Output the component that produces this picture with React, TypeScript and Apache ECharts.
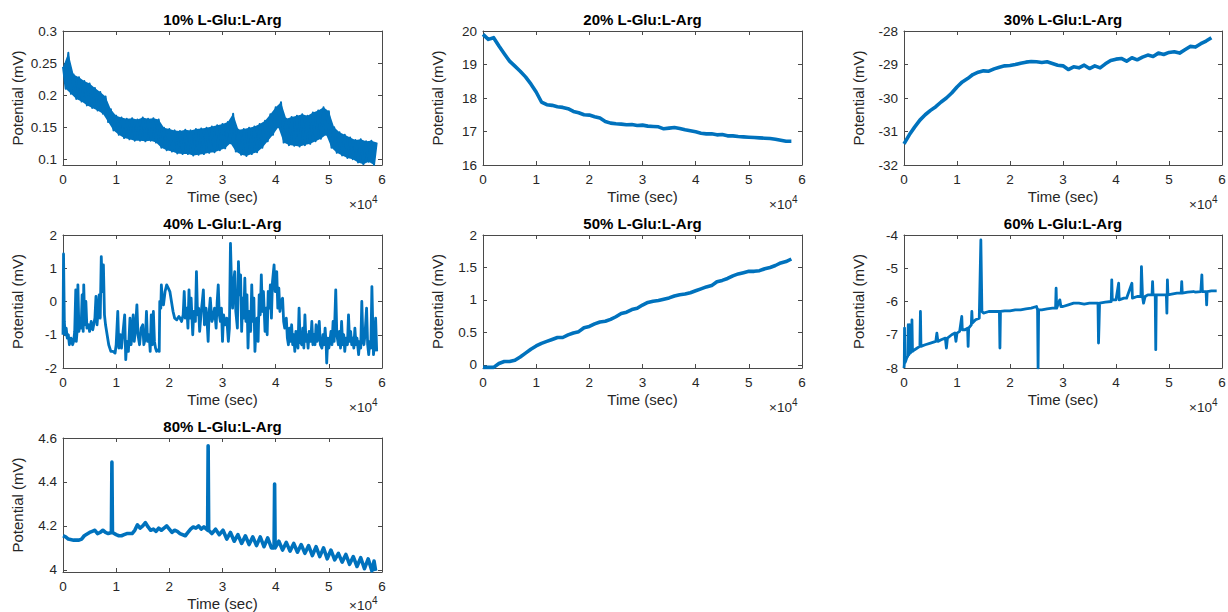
import React, { useEffect, useRef } from "react";
import * as echarts from "echarts";

const FONT = "'Liberation Sans', Arial, Helvetica, sans-serif";
const LINE_COLOR = "#0072BD";
const AXIS_COLOR = "#262626";

// Time is stored in units of 10^4 s (the axis shows 0..6 with a x10^4 multiplier)
const xTicks = [0, 1, 2, 3, 4, 5, 6];

const panelTitles = [
  "10% L-Glu:L-Arg",
  "20% L-Glu:L-Arg",
  "30% L-Glu:L-Arg",
  "40% L-Glu:L-Arg",
  "50% L-Glu:L-Arg",
  "60% L-Glu:L-Arg",
  "80% L-Glu:L-Arg",
];

// 10%: fast oscillation, band read as upper (t = 0, 0.1, ...) and lower (t = 0.05, 0.15, ...) envelopes
const p10Step = 0.1;
const p10Upper = [
  0.244, 0.266, 0.232, 0.228, 0.222, 0.218, 0.211, 0.205, 0.198, 0.178,
  0.168, 0.165, 0.163, 0.164, 0.162, 0.165, 0.163, 0.164, 0.162, 0.149,
  0.147, 0.145, 0.144, 0.146, 0.145, 0.147, 0.148, 0.149, 0.151, 0.153,
  0.155, 0.158, 0.171, 0.146, 0.147, 0.149, 0.151, 0.155, 0.16, 0.17,
  0.181, 0.189, 0.163, 0.166, 0.168, 0.17, 0.168, 0.173, 0.176, 0.181,
  0.175, 0.15, 0.142, 0.138, 0.134, 0.13, 0.131, 0.128, 0.129, 0.126,
];
const p10Lower = [
  0.21, 0.202, 0.194, 0.19, 0.184, 0.18, 0.176, 0.171, 0.158, 0.145,
  0.138, 0.133, 0.131, 0.129, 0.129, 0.128, 0.129, 0.126, 0.118, 0.114,
  0.112, 0.109, 0.108, 0.108, 0.106, 0.107, 0.108, 0.11, 0.111, 0.114,
  0.117, 0.125, 0.112, 0.107, 0.105, 0.108, 0.111, 0.118, 0.128, 0.138,
  0.15, 0.126, 0.122, 0.121, 0.12, 0.122, 0.124, 0.128, 0.132, 0.138,
  0.118, 0.11, 0.106, 0.102, 0.1, 0.095, 0.092, 0.096, 0.091,
];

// 20%, 30%, 50%: one reading every 0.1 x10^4 s
const smoothStep = 0.1;
const p20Values = [
  19.9, 19.75, 19.8, 19.55, 19.32, 19.1, 18.95, 18.8, 18.63, 18.42,
  18.18, 17.88, 17.8, 17.78, 17.74, 17.72, 17.68, 17.6, 17.56, 17.5,
  17.49, 17.44, 17.4, 17.3, 17.25, 17.23, 17.22, 17.2, 17.21, 17.18,
  17.19, 17.16, 17.15, 17.14, 17.08, 17.1, 17.12, 17.09, 17.05, 17.02,
  16.99, 16.95, 16.93, 16.93, 16.9, 16.91, 16.87, 16.87, 16.85, 16.84,
  16.83, 16.82, 16.81, 16.8, 16.79, 16.77, 16.74, 16.71, 16.71,
];
const p30Values = [
  -31.37, -31.1, -30.87, -30.66, -30.5, -30.37, -30.26, -30.12, -30.0, -29.85,
  -29.67, -29.52, -29.42, -29.3, -29.23, -29.19, -29.2, -29.13, -29.08, -29.04,
  -29.03, -29.0, -28.96, -28.93, -28.91, -28.92, -28.94, -28.92, -28.97, -29.02,
  -29.04, -29.15, -29.07, -29.1, -29.02, -29.12, -29.04, -29.1, -28.98, -28.88,
  -28.84, -28.82, -28.9, -28.8, -28.86, -28.78, -28.72, -28.76, -28.66, -28.7,
  -28.64, -28.62, -28.66, -28.56, -28.46, -28.48, -28.38, -28.3, -28.2,
];
const p50Values = [
  -0.04, -0.04, -0.04, 0.02, 0.05, 0.05, 0.07, 0.12, 0.18, 0.24,
  0.29, 0.33, 0.36, 0.39, 0.42, 0.42, 0.46, 0.49, 0.51, 0.57,
  0.59, 0.63, 0.66, 0.67, 0.7, 0.74, 0.79, 0.81, 0.85, 0.87,
  0.92, 0.96, 0.98, 0.99, 1.01, 1.03, 1.06, 1.08, 1.09, 1.11,
  1.14, 1.17, 1.2, 1.22, 1.28, 1.3, 1.33, 1.37, 1.4, 1.42,
  1.44, 1.44, 1.45, 1.48, 1.5, 1.53, 1.57, 1.59, 1.63,
];

// 40%: noisy trace [t (x10^4 s), mV]
const p40Points: [number, number][] = [
  [0, -1.0], [0.01, 1.43], [0.025, -0.6], [0.04, -1.0], [0.06, -0.8], [0.08, -1.1], [0.1, -1.0], [0.12, -1.3],
  [0.15, -1.1], [0.18, -1.3], [0.2, -1.2], [0.22, -0.9], [0.24, 0.35], [0.25, -1.2], [0.27, -0.8], [0.28, 0.5],
  [0.3, -0.9], [0.32, -0.6], [0.34, -0.8], [0.36, 0.2], [0.38, -0.9], [0.39, 0.5], [0.41, -0.7], [0.43, 0.0],
  [0.45, -0.8], [0.48, -0.7], [0.5, -0.9], [0.53, -0.6], [0.56, -0.85], [0.6, -0.5], [0.62, 0.15], [0.64, -0.7],
  [0.66, -0.3], [0.68, 0.2], [0.7, -0.5], [0.72, 1.35], [0.74, 0.3], [0.76, 1.1], [0.78, -0.4], [0.8, -0.7],
  [0.83, -1.0], [0.86, -1.3], [0.9, -1.5], [0.94, -1.5], [0.98, -1.55], [1.0, -1.3], [1.03, -0.3], [1.05, -1.4],
  [1.08, -1.0], [1.1, -1.4], [1.13, -0.9], [1.16, -0.4], [1.18, -1.75], [1.2, -1.2], [1.23, -1.5], [1.26, -0.5],
  [1.28, -1.3], [1.3, -1.0], [1.32, -0.4], [1.34, -1.2], [1.36, -0.9], [1.39, -0.1], [1.41, -1.0], [1.44, -1.3],
  [1.47, -0.8], [1.5, -0.7], [1.52, -1.3], [1.55, -1.1], [1.57, -0.3], [1.59, -1.2], [1.62, -1.0], [1.64, -1.5],
  [1.66, -0.4], [1.68, -1.3], [1.7, -0.3], [1.72, -1.2], [1.74, -1.4], [1.76, -1.5], [1.79, -1.45], [1.81, -1.5],
  [1.82, 0.0], [1.84, -0.2], [1.85, 0.5], [1.87, 0.0], [1.89, -0.1], [1.92, 0.3], [1.95, 0.5], [1.98, 0.4],
  [2.01, 0.3], [2.04, 0.0], [2.07, -0.3], [2.1, -0.5], [2.14, -0.55], [2.18, -0.45], [2.2, -0.5], [2.23, -0.6],
  [2.26, -0.4], [2.28, 0.3], [2.3, -0.5], [2.33, -0.2], [2.35, -0.8], [2.37, 0.35], [2.39, -0.5], [2.41, 0.1],
  [2.44, -1.0], [2.46, -0.3], [2.49, -0.6], [2.51, 0.9], [2.53, -0.4], [2.55, -0.2], [2.57, -0.9], [2.6, -0.3],
  [2.62, 0.0], [2.64, 0.35], [2.66, -0.7], [2.69, -0.2], [2.71, -0.6], [2.73, -1.2], [2.75, -0.3], [2.77, 0.1],
  [2.8, -0.6], [2.82, -0.5], [2.85, -0.2], [2.88, -0.8], [2.9, 0.0], [2.92, 0.5], [2.94, -0.4], [2.96, -0.6],
  [2.98, -0.2], [3.0, -1.2], [3.02, -0.4], [3.05, -0.7], [3.08, -0.5], [3.11, -1.2], [3.13, -0.8], [3.15, 1.75],
  [3.17, 0.5], [3.19, -0.2], [3.21, 0.6], [3.23, 0.9], [3.25, -0.3], [3.28, -0.8], [3.3, 1.2], [3.32, 0.2],
  [3.34, 0.8], [3.36, -0.9], [3.38, 0.1], [3.4, -0.5], [3.42, 0.7], [3.44, -0.6], [3.46, 0.2], [3.48, -1.4],
  [3.5, -0.3], [3.53, -0.9], [3.55, 0.5], [3.57, -0.6], [3.59, 0.1], [3.61, -1.5], [3.63, -0.8], [3.65, -0.5],
  [3.67, -1.2], [3.69, 0.2], [3.71, -0.4], [3.73, 0.8], [3.75, -0.3], [3.77, 0.3], [3.8, -0.9], [3.82, -0.2],
  [3.84, -1.0], [3.86, 0.3], [3.88, -0.2], [3.9, 0.5], [3.92, -0.5], [3.94, 0.6], [3.97, 1.1], [3.99, 0.3],
  [4.02, 0.9], [4.04, -0.2], [4.06, 0.4], [4.08, -0.3], [4.1, 0.0], [4.13, 0.1], [4.15, -0.6], [4.17, -0.8],
  [4.2, -0.5], [4.22, -1.1], [4.24, -1.3], [4.26, -0.8], [4.28, -1.2], [4.3, -0.7], [4.32, -1.3], [4.34, -1.0],
  [4.36, -1.5], [4.38, -0.9], [4.4, -1.2], [4.42, -1.4], [4.44, -0.2], [4.46, -1.2], [4.49, -1.3], [4.51, -0.8],
  [4.53, -1.4], [4.55, -0.4], [4.57, -1.2], [4.59, -1.0], [4.61, -1.4], [4.63, -0.9], [4.66, -1.2], [4.68, -0.6],
  [4.7, -1.3], [4.72, -1.0], [4.74, -1.3], [4.76, -0.7], [4.78, -1.2], [4.8, -1.1], [4.82, -0.6], [4.84, -1.3],
  [4.87, -1.4], [4.89, -1.0], [4.91, -1.3], [4.93, -0.8], [4.95, -1.3], [4.96, -1.85], [4.98, -1.1], [5.0, -1.4],
  [5.02, -1.2], [5.04, -0.9], [5.06, -1.3], [5.08, -0.6], [5.1, -1.2], [5.13, 0.35], [5.15, -1.0], [5.18, -1.3],
  [5.2, -0.9], [5.22, -1.4], [5.24, -0.6], [5.26, -1.3], [5.28, -1.0], [5.3, -1.5], [5.32, -1.1], [5.35, -1.3],
  [5.37, -0.4], [5.39, -1.2], [5.41, -0.9], [5.43, -1.3], [5.45, -1.1], [5.47, -1.4], [5.49, -0.8], [5.51, -1.3],
  [5.53, -1.1], [5.56, -1.6], [5.58, -1.2], [5.6, -1.4], [5.62, 0.0], [5.64, -1.1], [5.66, -1.3], [5.68, -1.0],
  [5.71, -0.2], [5.73, -1.3], [5.75, -1.6], [5.77, -1.2], [5.79, -1.4], [5.81, 0.45], [5.83, -1.0], [5.84, -1.6],
  [5.86, -1.2], [5.88, -0.5], [5.9, -1.5],
];

// 60%: drifting baseline with spikes [t (x10^4 s), mV]
const p60Points: [number, number][] = [
  [0, -8.0], [0.005, -7.9], [0.01, -6.8], [0.015, -7.85], [0.03, -7.8], [0.05, -7.7], [0.07, -7.65], [0.08, -6.7],
  [0.09, -7.6], [0.1, -7.55], [0.11, -6.7], [0.12, -7.55], [0.14, -7.5], [0.15, -6.55], [0.16, -7.5], [0.2, -7.45],
  [0.25, -7.4], [0.3, -7.35], [0.31, -6.3], [0.32, -7.35], [0.4, -7.3], [0.5, -7.25], [0.6, -7.2], [0.62, -6.95],
  [0.64, -7.2], [0.7, -7.15], [0.78, -7.1], [0.8, -7.4], [0.82, -7.1], [0.9, -7.0], [0.96, -6.95], [0.98, -7.2],
  [1.0, -6.95], [1.05, -6.9], [1.09, -6.45], [1.1, -6.85], [1.15, -6.85], [1.2, -6.8], [1.21, -7.35], [1.22, -6.8],
  [1.27, -6.7], [1.28, -6.3], [1.29, -6.65], [1.35, -6.55], [1.42, -6.5], [1.45, -4.15], [1.47, -6.3], [1.5, -6.35],
  [1.6, -6.3], [1.7, -6.3], [1.8, -6.3], [1.81, -7.4], [1.82, -6.3], [1.9, -6.28], [2.0, -6.28], [2.1, -6.25],
  [2.2, -6.25], [2.3, -6.22], [2.4, -6.2], [2.5, -6.15], [2.52, -6.25], [2.53, -8.0], [2.54, -6.25], [2.6, -6.25],
  [2.7, -6.22], [2.8, -6.2], [2.86, -6.2], [2.87, -5.6], [2.88, -6.2], [2.94, -5.95], [2.96, -6.15], [3.0, -6.15],
  [3.1, -6.1], [3.2, -6.05], [3.3, -6.05], [3.4, -6.08], [3.5, -6.05], [3.6, -6.05], [3.66, -6.05], [3.67, -7.25],
  [3.68, -6.7], [3.69, -6.05], [3.8, -6.02], [3.91, -6.0], [3.92, -5.35], [3.93, -5.95], [4.0, -5.95], [4.05, -5.45],
  [4.06, -5.95], [4.15, -5.9], [4.2, -5.9], [4.3, -5.45], [4.31, -5.9], [4.4, -5.85], [4.47, -5.85], [4.48, -4.95],
  [4.5, -5.85], [4.52, -6.05], [4.55, -5.85], [4.6, -5.8], [4.68, -5.8], [4.69, -5.4], [4.7, -5.8], [4.74, -5.8],
  [4.75, -7.45], [4.76, -5.8], [4.85, -5.8], [4.95, -5.8], [4.96, -6.35], [4.97, -5.35], [4.98, -5.8], [5.05, -5.78],
  [5.15, -5.75], [5.23, -5.75], [5.24, -5.4], [5.25, -5.75], [5.35, -5.72], [5.46, -5.7], [5.5, -5.72], [5.6, -5.7],
  [5.62, -5.2], [5.63, -5.7], [5.7, -5.7], [5.71, -6.1], [5.72, -5.7], [5.8, -5.68], [5.9, -5.68],
];

// 80%: slow oscillation with three spikes [t (x10^4 s), mV]
const p80Points: [number, number][] = [
  [0, 4.155], [0.05, 4.15], [0.1, 4.14], [0.2, 4.135], [0.3, 4.135], [0.35, 4.14], [0.4, 4.155], [0.5, 4.17],
  [0.55, 4.175], [0.6, 4.18], [0.65, 4.165], [0.7, 4.17], [0.75, 4.18], [0.8, 4.17], [0.85, 4.165], [0.91, 4.17],
  [0.92, 4.49], [0.93, 4.17], [1.0, 4.16], [1.05, 4.155], [1.1, 4.155], [1.15, 4.16], [1.2, 4.165], [1.3, 4.165],
  [1.35, 4.18], [1.4, 4.205], [1.45, 4.19], [1.5, 4.2], [1.55, 4.215], [1.6, 4.195], [1.65, 4.18], [1.7, 4.185],
  [1.75, 4.175], [1.8, 4.19], [1.85, 4.18], [1.9, 4.19], [1.95, 4.2], [2.0, 4.185], [2.05, 4.17], [2.1, 4.18],
  [2.15, 4.175], [2.2, 4.165], [2.3, 4.155], [2.35, 4.17], [2.4, 4.185], [2.45, 4.195], [2.5, 4.19], [2.55, 4.2],
  [2.6, 4.185], [2.65, 4.195], [2.72, 4.18], [2.73, 4.565], [2.74, 4.18], [2.8, 4.165], [2.87, 4.185], [2.94, 4.16],
  [3.01, 4.18], [3.08, 4.14], [3.15, 4.17], [3.22, 4.13], [3.29, 4.16], [3.36, 4.12], [3.43, 4.155], [3.5, 4.115],
  [3.57, 4.15], [3.64, 4.11], [3.71, 4.15], [3.78, 4.105], [3.85, 4.145], [3.92, 4.1], [3.97, 4.1], [3.98, 4.39],
  [3.99, 4.1], [4.06, 4.13], [4.13, 4.09], [4.2, 4.125], [4.27, 4.085], [4.34, 4.12], [4.41, 4.08], [4.48, 4.115],
  [4.55, 4.075], [4.62, 4.11], [4.69, 4.065], [4.76, 4.105], [4.83, 4.06], [4.9, 4.1], [4.97, 4.05], [5.04, 4.09],
  [5.11, 4.045], [5.18, 4.075], [5.25, 4.035], [5.32, 4.07], [5.39, 4.025], [5.46, 4.06], [5.53, 4.015], [5.6, 4.055],
  [5.67, 4.005], [5.74, 4.05], [5.81, 3.995], [5.85, 4.04], [5.88, 3.995],
];

// y tick labels
const yTicks10 = [0.1, 0.15, 0.2, 0.25, 0.3];
const yTicks20 = [16, 17, 18, 19, 20];
const yTicks30 = [-32, -31, -30, -29, -28];
const yTicks40 = [-2, -1, 0, 1, 2];
const yTicks50 = [0, 0.5, 1, 1.5, 2];
const yTicks60 = [-8, -7, -6, -5, -4];
const yTicks80 = [4, 4.2, 4.4, 4.6];

// y ranges (MATLAB tight limits)
const yRanges: [number, number][] = [
  [0.091, 0.3],
  [16, 20],
  [-32, -28],
  [-2, 2],
  [-0.05, 2],
  [-8, -4],
  [3.99, 4.6],
];

function zigzag(upper: number[], lower: number[], step: number): [number, number][] {
  const out: [number, number][] = [];
  for (let i = 0; i < upper.length; i++) {
    out.push([i * step, upper[i]]);
    if (i < lower.length) out.push([i * step + step / 2, lower[i]]);
  }
  return out;
}

// closed outline of the band: upper envelope forward, lower envelope back
function bandOutline(upper: number[], lower: number[], step: number): [number, number][] {
  const out: [number, number][] = [];
  for (let i = 0; i < upper.length; i++) out.push([i * step, upper[i]]);
  for (let i = lower.length - 1; i >= 0; i--) out.push([i * step + step / 2, lower[i]]);
  return out;
}

function regular(values: number[], step: number): [number, number][] {
  return values.map((v, i) => [i * step, v] as [number, number]);
}

const COLS = [
  { left: 63, width: 319 },
  { left: 483, width: 319 },
  { left: 904, width: 318 },
];
const ROWS = [
  { top: 31, height: 134 },
  { top: 235, height: 133 },
  { top: 438, height: 134 },
];

function buildOption() {
  const panelData: [number, number][][] = [
    zigzag(p10Upper, p10Lower, p10Step),
    regular(p20Values, smoothStep),
    regular(p30Values, smoothStep),
    p40Points,
    regular(p50Values, smoothStep),
    p60Points,
    p80Points,
  ];
  const panelTicks = [yTicks10, yTicks20, yTicks30, yTicks40, yTicks50, yTicks60, yTicks80];
  const lineWidths = [2, 3.6, 3.6, 2.8, 3.6, 2.8, 3.6];

  const grids: any[] = [];
  const xAxes: any[] = [];
  const yAxes: any[] = [];
  const series: any[] = [];
  const titles: any[] = [];
  const graphics: any[] = [];

  const boxLine = { color: "#4a4a4a", width: 1 };
  const tickStyle = { color: "#4a4a4a", width: 1 };
  const labelStyle = { color: AXIS_COLOR, fontSize: 13.5, fontFamily: FONT };
  const nameStyle = { color: AXIS_COLOR, fontSize: 15, fontFamily: FONT };

  for (let i = 0; i < panelData.length; i++) {
    const rowIdx = Math.floor(i / 3);
    const col = COLS[i % 3];
    const row = ROWS[rowIdx];
    grids.push({
      left: col.left,
      top: row.top,
      width: col.width,
      height: row.height,
      containLabel: false,
      outerBoundsMode: "none",
    });
    const ticks = panelTicks[i];
    const [ymin, ymax] = yRanges[i];

    xAxes.push({
      type: "value",
      gridIndex: i,
      position: "bottom",
      min: xTicks[0],
      max: xTicks[xTicks.length - 1],
      interval: 1,
      axisLine: { show: true, onZero: false, lineStyle: boxLine },
      axisTick: { show: true, inside: true, length: 4, lineStyle: tickStyle },
      axisLabel: { show: true, margin: 7, ...labelStyle },
      splitLine: { show: false },
      name: "Time (sec)",
      nameLocation: "middle",
      nameGap: 24,
      nameTextStyle: nameStyle,
    });
    xAxes.push({
      type: "value",
      gridIndex: i,
      position: "top",
      min: xTicks[0],
      max: xTicks[xTicks.length - 1],
      interval: 1,
      axisLine: { show: true, onZero: false, lineStyle: boxLine },
      axisTick: { show: true, inside: true, length: 4, lineStyle: tickStyle },
      axisLabel: { show: false },
      splitLine: { show: false },
    });
    yAxes.push({
      type: "value",
      gridIndex: i,
      position: "left",
      min: ymin,
      max: ymax,
      axisLine: { show: true, onZero: false, lineStyle: boxLine },
      axisTick: { show: true, inside: true, length: 4, lineStyle: tickStyle, customValues: ticks },
      axisLabel: { show: true, margin: 6, customValues: ticks, ...labelStyle },
      splitLine: { show: false },
      name: "Potential (mV)",
      nameLocation: "middle",
      nameGap: 38,
      nameRotate: 90,
      nameTextStyle: nameStyle,
    });
    yAxes.push({
      type: "value",
      gridIndex: i,
      position: "right",
      min: ymin,
      max: ymax,
      axisLine: { show: true, onZero: false, lineStyle: boxLine },
      axisTick: { show: true, inside: true, length: 4, lineStyle: tickStyle, customValues: ticks },
      axisLabel: { show: false },
      splitLine: { show: false },
    });

    if (i === 0) {
      const outline = bandOutline(p10Upper, p10Lower, p10Step);
      series.push({
        type: "custom",
        coordinateSystem: "cartesian2d",
        xAxisIndex: 0,
        yAxisIndex: 0,
        data: [[0, 0]],
        silent: true,
        clip: true,
        renderItem: (_params: any, api: any) => ({
          type: "polygon",
          shape: { points: outline.map((p) => api.coord(p)) },
          style: { fill: LINE_COLOR },
        }),
      });
    }

    series.push({
      type: "line",
      xAxisIndex: i * 2,
      yAxisIndex: i * 2,
      data: panelData[i],
      showSymbol: false,
      symbol: "none",
      lineStyle: { color: LINE_COLOR, width: lineWidths[i], join: "round" },
      clip: true,
      silent: true,
    });

    titles.push({
      text: panelTitles[i],
      left: col.left + col.width / 2,
      top: row.top - 19,
      textAlign: "center",
      padding: 0,
      textStyle: { fontSize: 15, fontWeight: "bold", color: "#000", fontFamily: FONT },
    });

    const right = col.left + col.width;
    const bottom = row.top + row.height;
    const off = rowIdx === 2 ? 33 : 39;
    graphics.push({
      type: "text",
      x: right - 10,
      y: bottom + off,
      style: { text: "×10", fill: AXIS_COLOR, font: `13.5px ${FONT}`, align: "right", verticalAlign: "middle" },
    });
    graphics.push({
      type: "text",
      x: right - 10,
      y: bottom + off - 5,
      style: { text: "4", fill: AXIS_COLOR, font: `10px ${FONT}`, align: "left", verticalAlign: "middle" },
    });
  }

  return {
    animation: false,
    backgroundColor: "#ffffff",
    title: titles,
    grid: grids,
    xAxis: xAxes,
    yAxis: yAxes,
    series,
    graphic: graphics,
  };
}

export default function App() {
  const ref = useRef<HTMLDivElement>(null);
  useEffect(() => {
    if (!ref.current) return;
    const chart = echarts.init(ref.current, undefined, { renderer: "svg" });
    chart.setOption(buildOption() as any);
    return () => chart.dispose();
  }, []);
  return (
    <div
      ref={ref}
      style={{ position: "fixed", left: 0, top: 0, width: 1228, height: 612, background: "#fff" }}
    />
  );
}
